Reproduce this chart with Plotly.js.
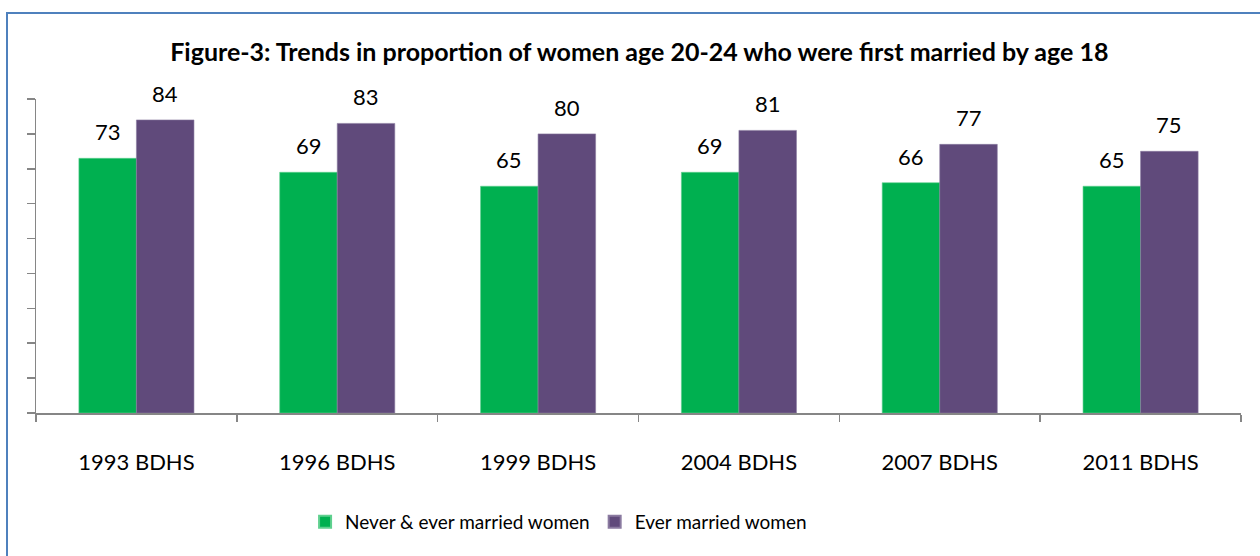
<!DOCTYPE html>
<html>
<head>
<meta charset="utf-8">
<script src="https://cdn.plot.ly/plotly-3.0.1.min.js"></script>
<style>
  html, body { margin: 0; padding: 0; background: #fff; }
  #wrap { position: relative; width: 1260px; height: 556px; overflow: hidden; }
  #chart { position: absolute; left: 0; top: 0; width: 1260px; height: 556px; }
  #frame { position: absolute; left: 6px; top: 12px; width: 1300px; height: 600px;
           border-left: 2.5px solid #4F81BD; border-top: 2.5px solid #4F81BD;
           pointer-events: none; z-index: 10; }
</style>
</head>
<body>
<div id="wrap">
  <div id="chart"></div>
  <div id="frame"></div>
</div>
<script>
const categories = ["1993 BDHS", "1996 BDHS", "1999 BDHS", "2004 BDHS", "2007 BDHS", "2011 BDHS"];
const neverEverMarried = [73, 69, 65, 69, 66, 65];
const everMarried = [84, 83, 80, 81, 77, 75];
const seriesNames = ["Never & ever married women", "Ever married women"];
const chartTitle = "Figure-3: Trends in proportion of women age 20-24 who were first married by age 18";

const FONT = "Lato, 'Open Sans', sans-serif";
const green = "#00B050";
const purple = "#604A7B";

const traces = [
  { type: "bar", name: seriesNames[0], x: categories, y: neverEverMarried,
    marker: { color: green, line: { color: "#5fd08f", width: 0.6 } }, hoverinfo: "x+y" },
  { type: "bar", name: seriesNames[1], x: categories, y: everMarried,
    marker: { color: purple, line: { color: "#8a7aa0", width: 0.6 } }, hoverinfo: "x+y" }
];

const annotations = [];
[[neverEverMarried, -28.75], [everMarried, 28.75]].forEach(([vals, dx]) => {
  vals.forEach((v, i) => {
    annotations.push({
      x: categories[i], y: v, xref: "x", yref: "y",
      text: String(v), showarrow: false,
      xanchor: "center", yanchor: "bottom",
      xshift: dx, yshift: 11,
      font: { family: FONT, size: 22, color: "#000" }
    });
  });
});

const layout = {
  width: 1260, height: 556,
  paper_bgcolor: "#fff", plot_bgcolor: "#fff",
  margin: { l: 36, r: 19, t: 99, b: 143 },
  barmode: "group", bargap: 0.427, bargroupgap: 0,
  title: {
    text: "<b>" + chartTitle + "</b>",
    x: 0.5007, xanchor: "center", xref: "paper",
    y: 1 - 52/556, yanchor: "middle",
    font: { family: FONT, size: 25, color: "#000" }
  },
  xaxis: {
    type: "category",
    showline: true, linecolor: "#868686", linewidth: 1.5,
    ticks: "outside", tickson: "boundaries", ticklen: 7, tickcolor: "#868686", tickwidth: 1.5,
    tickfont: { family: FONT, size: 22, color: "#000" },
    ticklabelstandoff: 29,
    showgrid: false, zeroline: false
  },
  yaxis: {
    range: [0, 90], dtick: 10, tick0: 0,
    showline: true, linecolor: "#868686", linewidth: 1.5,
    ticks: "outside", ticklen: 8, tickcolor: "#868686", tickwidth: 1.5,
    showticklabels: false, showgrid: false, zeroline: false
  },
  showlegend: true,
  legend: {
    orientation: "h", x: 0.2233, xanchor: "left", y: -0.347, yanchor: "middle",
    font: { family: FONT, size: 19, color: "#000" },
    itemsizing: "constant", traceorder: "normal"
  },
  annotations: annotations
};

Plotly.newPlot("chart", traces, layout, { displayModeBar: false, staticPlot: true });
</script>
</body>
</html>
